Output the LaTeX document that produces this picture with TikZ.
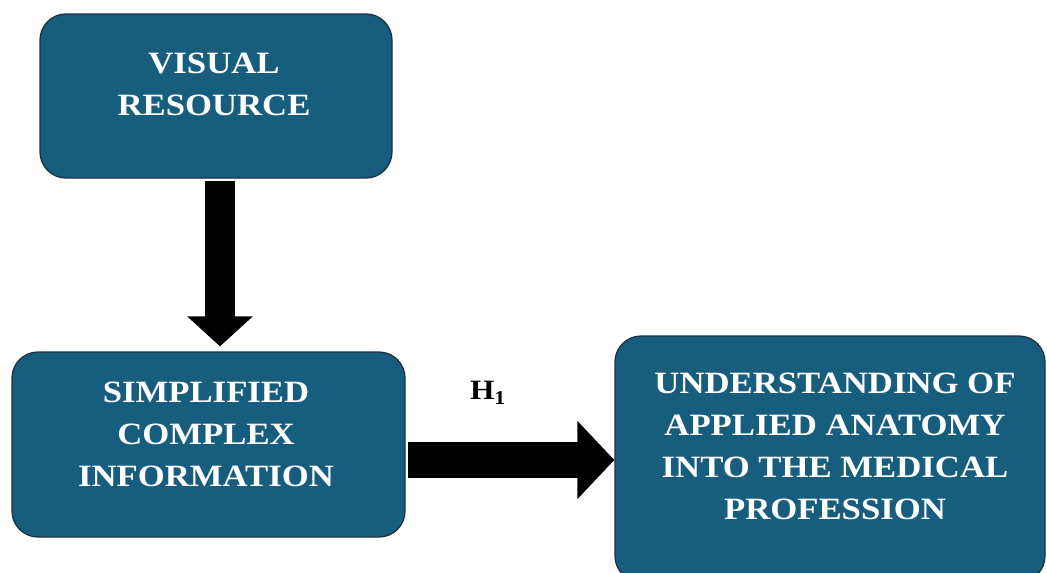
\documentclass[tikz,border=0pt]{standalone}
\usepackage{fontspec}
\setmainfont{Liberation Serif}
\newfontfamily\wideserif{Liberation Serif}[FakeStretch=1.12]
\usetikzlibrary{arrows.meta}
\definecolor{boxfill}{RGB}{23,94,126}
\definecolor{boxline}{RGB}{28,52,66}
\begin{document}
\begin{tikzpicture}[x=1pt,y=-1pt,
  box/.style={draw=boxline, line width=1.3pt, fill=boxfill, rounded corners=26pt, inner sep=0pt},
  boxtext/.style={text=white, font=\wideserif\fontsize{31}{42}\selectfont\bfseries, align=center, inner sep=0pt},
  downarrow/.style={line width=30pt, -{Triangle[width=64pt,length=30pt]}},
  rightarrow/.style={line width=36pt, -{Triangle[width=76pt,length=37pt]}}]
\useasboundingbox (0,0) rectangle (1047,573);
\begin{scope}
\clip (0,0) rectangle (1047,573);
\node[box, minimum width=352pt, minimum height=164pt] (b1) at (216,96) {};
\node[box, minimum width=393pt, minimum height=185pt] (b2) at (208.5,444.5) {};
\node[box, minimum width=430pt, minimum height=246pt] (b3) at (830,459) {};
\end{scope}
\node[boxtext] (t1) at (214,84) {VISUAL\\RESOURCE};
\node[boxtext] (t2) at (206,434) {SIMPLIFIED\\COMPLEX\\INFORMATION};
\node[boxtext] (t3) at (835,446) {UNDERSTANDING OF\\APPLIED ANATOMY\\INTO THE MEDICAL\\PROFESSION};
\coordinate (dx) at (220,0);
\draw[downarrow, shorten <=2pt, shorten >=5pt] (b1.south -| dx) -- (b2.north -| dx);
\coordinate (ry) at (0,460);
\draw[rightarrow, shorten <=2pt] (b2.east |- ry) -- (b3.west |- ry);
\node[font=\wideserif\fontsize{28}{30}\selectfont\bfseries, inner sep=0pt] (h1) at (488,393) {H\textsubscript{1}};
\end{tikzpicture}
\end{document}
